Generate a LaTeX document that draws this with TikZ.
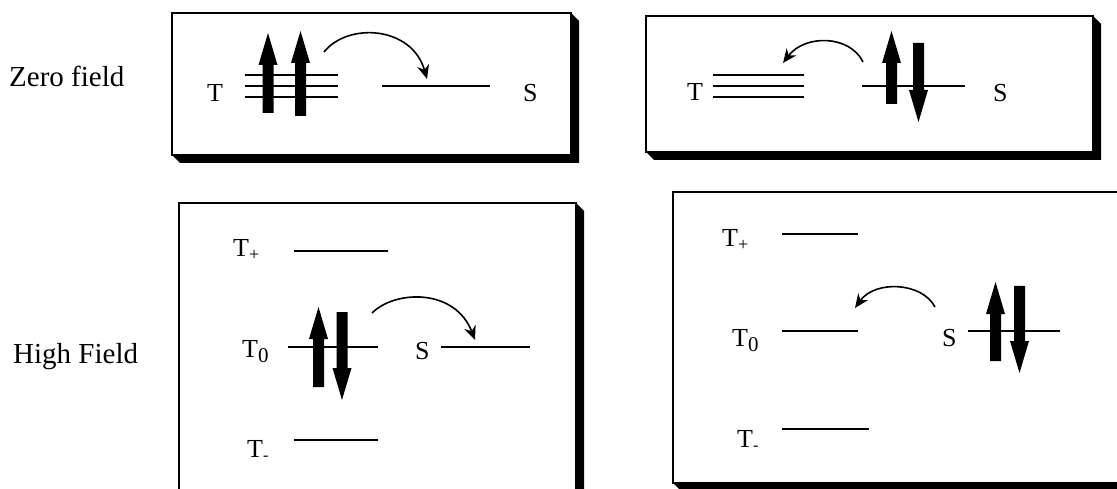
\documentclass[tikz,border=0pt]{standalone}
\usepackage{fontspec}
\setmainfont{Liberation Serif}
\usetikzlibrary{arrows.meta}
\newcommand\shbox[4]{% x1,y1,x2,y2
  \fill (#3,#2) -- ({#3+8},{#2+8}) -- ({#3+8},{#4+8}) -- ({#1+8},{#4+8}) -- (#1,#4) -- (#3,#4) -- cycle;
  \draw[boxline] (#1,#2) rectangle (#3,#4);}
\newcommand\spinup[3]{% x, bottom, tip
  \fill ({#1-5.5},#2) -- ({#1+5.5},#2) -- ({#1+5.5},{#3+32}) -- ({#1+9.5},{#3+32}) -- (#1,#3) -- ({#1-9.5},{#3+32}) -- ({#1-5.5},{#3+32}) -- cycle;}
\newcommand\spindown[3]{% x, top, tip
  \fill ({#1-5.5},#2) -- ({#1+5.5},#2) -- ({#1+5.5},{#3-32}) -- ({#1+9.5},{#3-32}) -- (#1,#3) -- ({#1-9.5},{#3-32}) -- ({#1-5.5},{#3-32}) -- cycle;}
\newcommand\subp{\raisebox{-4pt}{\fontsize{18}{18}\selectfont +}}
\newcommand\subz{\raisebox{-5pt}{\fontsize{21}{21}\selectfont 0}}
\newcommand\subm{\raisebox{-3pt}{\fontsize{16}{16}\selectfont -}}
\begin{document}
\begin{tikzpicture}[x=1pt,y=-1pt,
  lvl/.style={line width=1.8pt},
  boxline/.style={line width=1.3pt},
  lab/.style={inner sep=0pt, anchor=base west, font=\fontsize{26}{26}\selectfont},
  side/.style={inner sep=0pt, anchor=base west, font=\fontsize{29}{29}\selectfont},
  hop/.style={line width=1.6pt, -{Stealth[length=14pt,width=12pt]}}]
\clip (0,0) rectangle (1117,489);
\fill[white] (0,0) rectangle (1117,489);

% side labels
\node[side] (zf) at (9,87) {Zero field};
\node[side] (hf) at (13,363) {High Field};

% ---- box 1
\shbox{172}{13}{571}{155}
\node[lab] (t1) at (207,102) {T};
\node[lab] (s1) at (523,102) {S};
\draw[lvl] (245,75) -- (338,75) (245,86) -- (338,86) (245,97) -- (338,97);
\draw[lvl] (382,86) -- (490,86);
\spinup{268}{113}{33}
\spinup{300.5}{116}{31}
\draw[hop] (324,52) .. controls (348,22) and (412,26) .. (427,79);

% ---- box 2
\shbox{646}{16}{1093}{152}
\node[lab] (t2) at (687,101) {T};
\node[lab] (s2) at (993,102) {S};
\draw[lvl] (713,75) -- (804,75) (713,86) -- (804,86) (713,97) -- (804,97);
\draw[lvl] (862,86) -- (965,86);
\spinup{891.5}{104}{31}
\spindown{918.5}{43}{122}
\draw[hop] (863,62) .. controls (850,35) and (805,34) .. (783,63);

% ---- box 3
\shbox{179}{203}{576}{500}
\node[lab] (tp3) at (233,257) {T\subp};
\node[lab] (tz3) at (242,357) {T\subz};
\node[lab] (s3) at (415,359) {S};
\node[lab] (tm3) at (247,457) {T\subm};
\draw[lvl] (294,251) -- (388,251);
\draw[lvl] (288,347) -- (378,347);
\draw[lvl] (441,347) -- (530,347);
\draw[lvl] (294,440) -- (378,440);
\spinup{318.5}{387}{307}
\spindown{342}{312}{400}
\draw[hop] (372,313) .. controls (395,290) and (455,288) .. (475,340);

% ---- box 4
\shbox{673}{192}{1130}{483}
\node[lab] (tp4) at (722,247) {T\subp};
\node[lab] (tz4) at (732,346) {T\subz};
\node[lab] (s4) at (942,346) {S};
\node[lab] (tm4) at (737,447) {T\subm};
\draw[lvl] (782,234) -- (858,234);
\draw[lvl] (782,331) -- (858,331);
\draw[lvl] (968,331) -- (1060,331);
\draw[lvl] (782,429) -- (869,429);
\spinup{995.5}{361}{282}
\spindown{1019.5}{286}{373}
\draw[hop] (935,307) .. controls (922,282) and (875,280) .. (855,308);
\end{tikzpicture}
\end{document}
